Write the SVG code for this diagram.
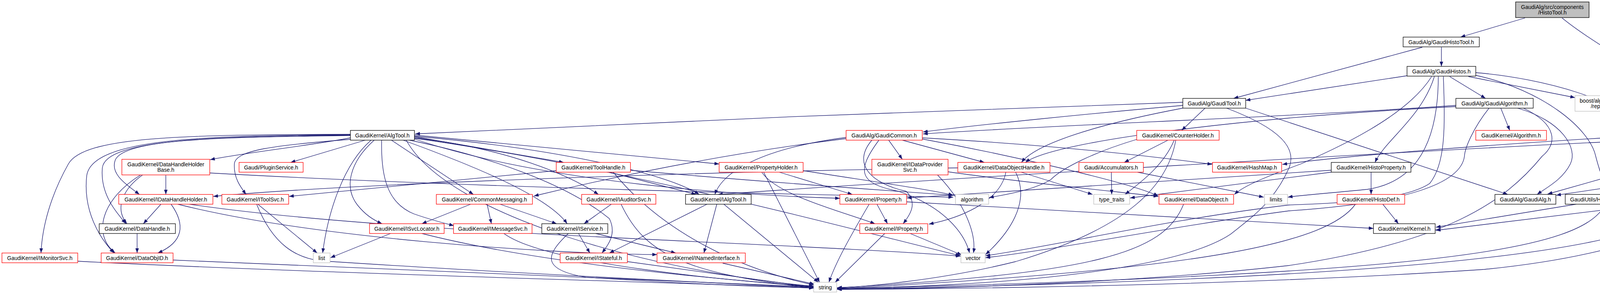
<svg xmlns="http://www.w3.org/2000/svg" width="4494" height="753" viewBox="0 0 4494 753">
<style>
rect{fill:#fff;stroke-width:1.3}
.r{stroke:#ff0000}.b{stroke:#000}.g{stroke:#bfbfbf}.root{fill:#bfbfbf;stroke:#000}
text{font-family:"Liberation Sans",Arial,sans-serif;font-size:14px;text-anchor:middle;fill:#000}
#edges path{fill:none;stroke:#191970;stroke-width:1.3;marker-end:url(#a)}
</style>
<defs><marker id="a" markerUnits="userSpaceOnUse" markerWidth="12" markerHeight="9" refX="12" refY="4.5" orient="auto"><path d="M0,0 L12,4.5 L0,9 z" fill="#191970"/></marker></defs>
<rect x="0" y="0" width="4494" height="753" style="fill:#fff;stroke:none"/>
<g id="edges">
<path d="M3904,46 L3739,95"/>
<path d="M3999,46 C4100,130 4330,240 4368,334"/>
<path d="M3690,121 L3690,170"/>
<path d="M3641,121 L3158,252"/>
<path d="M3602,194 L3189,257"/>
<path d="M3711,196 L3803,252"/>
<path d="M3759,196 L4032,250"/>
<path d="M3778,186 C3950,200 4170,260 4185,334"/>
<path d="M3778,193 C3950,230 4070,330 4085,400 C4095,440 4108,470 4114,498"/>
<path d="M3672,196 C3640,300 3545,360 3520,416"/>
<path d="M3665,196 C3600,300 3420,380 3330,420 C3220,460 3180,480 3160,498"/>
<path d="M3682,196 C3682,400 3600,470 3500,485 C3400,495 3330,500 3297,505"/>
<path d="M3695,196 C3700,330 3700,420 3660,470 C3600,510 3450,520 3300,525 C3000,560 2700,630 2523,655"/>
<path d="M3028,262 C2500,278 1600,315 1063,343"/>
<path d="M3028,270 C2800,290 2500,320 2363,338"/>
<path d="M3085,277 L3025,334"/>
<path d="M3028,277 C2800,320 2650,370 2615,416"/>
<path d="M3189,277 L3860,498"/>
<path d="M3140,277 C3280,330 3320,380 3300,430 C3260,520 3200,560 3150,600 C3000,700 2500,735 2143,738"/>
<path d="M3727,270 C3300,300 2700,320 2363,343"/>
<path d="M3727,273 C3200,300 2700,360 2625,416"/>
<path d="M3842,277 L3865,334"/>
<path d="M3885,277 C4000,310 4040,380 4020,420 C4000,460 3960,480 3935,498"/>
<path d="M3900,277 C3990,320 3985,370 3948,400 C3850,520 3700,620 3300,680 C2900,725 2400,740 2143,741"/>
<path d="M3812,277 C3770,330 3750,380 3749,400 C3740,470 3600,520 3300,540 C3000,580 2700,640 2523,660"/>
<path d="M897,353 C800,372 620,392 538,409"/>
<path d="M897,347 C600,352 320,352 295,410 C282,445 320,470 357,498"/>
<path d="M897,346 C560,350 270,355 262,430 C256,500 300,545 322,573"/>
<path d="M897,345 C520,347 235,355 222,450 C212,540 255,610 292,648"/>
<path d="M897,344 C460,345 215,350 175,420 C130,500 108,580 105,648"/>
<path d="M935,359 L744,416"/>
<path d="M897,357 C700,372 602,385 600,420 C598,455 615,478 630,498"/>
<path d="M950,359 C880,420 840,540 826,648"/>
<path d="M958,359 C895,415 880,480 915,525 C935,550 955,563 978,573"/>
<path d="M977,359 C975,450 990,520 1060,548 C1100,562 1130,570 1162,578"/>
<path d="M1002,359 L1212,498"/>
<path d="M1032,359 C1200,420 1400,500 1452,573"/>
<path d="M1048,359 C1250,400 1450,470 1560,560 C1580,600 1555,630 1541,648"/>
<path d="M1061,353 C1300,380 1460,450 1532,498"/>
<path d="M1061,350 L1443,416"/>
<path d="M1061,349 C1400,378 1700,440 1790,498"/>
<path d="M1061,346 L1841,420"/>
<path d="M1061,356 C1400,470 1900,500 2150,508"/>
<path d="M1061,354 C1600,430 2150,580 2458,655"/>
<path d="M1040,359 C1150,560 1700,700 2083,733"/>
<path d="M424.5,449 L424.5,498"/>
<path d="M365,448 C320,480 290,530 325,573"/>
<path d="M360,448 C260,510 235,600 295,648"/>
<path d="M537,443 C1200,480 2100,500 2440,505"/>
<path d="M412,523 L367,573"/>
<path d="M438,523 C475,575 470,620 404,648"/>
<path d="M455,523 C800,610 1400,650 1682,652"/>
<path d="M485,523 C1000,600 2000,620 2459,656"/>
<path d="M351,598 L351,648"/>
<path d="M443,666 L2083,735"/>
<path d="M199,669 C800,700 1800,725 2083,738"/>
<path d="M660,523 L812,648"/>
<path d="M657,523 C700,630 760,660 820,668 C1300,700 1900,728 2083,737"/>
<path d="M1000,598 L846,660"/>
<path d="M1080,598 C1400,680 1900,720 2083,734"/>
<path d="M1290,598 C1400,680 1900,720 2083,735"/>
<path d="M1205,523 L1080,573"/>
<path d="M1247,523 L1258,573"/>
<path d="M1280,523 L1425,573"/>
<path d="M1565,523 L1495,573"/>
<path d="M1590,523 C1650,650 1750,700 2083,738"/>
<path d="M1481,598 L1510,648"/>
<path d="M1525,598 L1730,648"/>
<path d="M1455,598 C1400,650 1380,690 1500,710 C1800,730 2000,736 2083,737"/>
<path d="M1810,523 L1560,648"/>
<path d="M1835,523 L1802,648"/>
<path d="M1853,523 L2095,723"/>
<path d="M1850,674 L2085,728"/>
<path d="M1606,670 L2083,736"/>
<path d="M1560,441 L1782,498"/>
<path d="M1424,437 L740,503"/>
<path d="M1614,436 C2000,470 2300,490 2442,500"/>
<path d="M1570,441 C1700,600 1900,690 2083,730"/>
<path d="M1995,441 L2182,498"/>
<path d="M1950,441 C1990,500 2150,540 2240,573"/>
<path d="M1955,441 L2098,723"/>
<path d="M2056,437 C2200,460 2380,485 2440,500"/>
<path d="M2245,523 L2272,573"/>
<path d="M2225,523 C2180,600 2140,670 2122,723"/>
<path d="M2321,517 L3516,585"/>
<path d="M2265,598 L2138,723"/>
<path d="M2330,598 L2462,653"/>
<path d="M2275,359 L2310,408"/>
<path d="M2310,359 L2520,416"/>
<path d="M2361,353 C2700,372 2950,400 3103,421"/>
<path d="M2232,359 C2180,420 2230,470 2320,490 C2350,520 2330,550 2312,573"/>
<path d="M2250,359 C2190,440 2200,470 2300,490 C2420,530 2470,600 2482,648"/>
<path d="M2361,356 C2600,400 2900,470 2965,502"/>
<path d="M2166,355 C1800,400 1500,470 1367,502"/>
<path d="M2166,352 C1950,380 1850,440 1830,498"/>
<path d="M2575,441 C2560,520 2450,560 2378,574"/>
<path d="M2614,441 L2797,498"/>
<path d="M2452,430 C1800,440 900,470 546,503"/>
<path d="M2600,441 C2640,520 2580,600 2523,652"/>
<path d="M2400,448 C2470,520 2500,600 2492,648"/>
<path d="M2427,440 C2600,465 2850,490 2965,503"/>
<path d="M2990,359 L2878,416"/>
<path d="M3006,359 C2980,420 2930,460 2880,498"/>
<path d="M3010,359 C2990,470 2900,580 2600,670 C2400,720 2200,735 2143,737"/>
<path d="M2910,357 C2800,390 2720,430 2690,460 C2650,485 2580,498 2532,506"/>
<path d="M2845,441 L2846,498"/>
<path d="M2912,441 L3235,505"/>
<path d="M3030,523 C2980,650 2800,700 2143,737"/>
<path d="M3510,441 L3510,498"/>
<path d="M3408,436 L2322,507"/>
<path d="M3408,441 L2893,507"/>
<path d="M3540,523 L3580,573"/>
<path d="M3470,523 C3400,620 3100,690 2143,739"/>
<path d="M4035,523 L3676,582"/>
<path d="M4110,523 C4050,640 3700,700 2143,740"/>
<path d="M4245,521 L3676,590"/>
<path d="M4300,523 C4250,640 3600,715 2143,741"/>
<path d="M4160,441 L3962,497"/>
<path d="M4320,441 C4200,470 4050,490 3984,500"/>
<path d="M4230,441 L4300,498"/>
<path d="M4365,441 L4350,498"/>
<path d="M4125,352 C3800,372 3450,398 3283,421"/>
<path d="M4190,359 L4192,416"/>
<path d="M4230,359 L4340,416"/>
<path d="M4378,359 L4374,416"/>
<path d="M4300,355 C3700,380 2300,465 1838,498"/>
<path d="M4440,359 C4480,500 4300,640 3800,690 C3200,730 2500,740 2143,741"/>
</g>
<g id="n0"><rect class="root" x="3880" y="5" width="188" height="40"/><text x="3974" y="23">GaudiAlg/src/components</text><text x="3974" y="37">/HistoTool.h</text></g>
<g id="n1"><rect class="b" x="3592" y="95" width="195" height="25"/><text x="3689.5" y="112.5">GaudiAlg/GaudiHistoTool.h</text></g>
<g id="n2"><rect class="b" x="3602" y="170" width="176" height="25"/><text x="3690" y="187.5">GaudiAlg/GaudiHistos.h</text></g>
<g id="n3"><rect class="b" x="3028" y="252" width="161" height="25"/><text x="3108.5" y="269.5">GaudiAlg/GaudiTool.h</text></g>
<g id="n4"><rect class="b" x="3727" y="252" width="198" height="25"/><text x="3826" y="269.5">GaudiAlg/GaudiAlgorithm.h</text></g>
<g id="n5"><rect class="g" x="4032" y="245" width="158" height="40"/><text x="4111" y="263">boost/algorithm/string</text><text x="4111" y="277">/replace.hpp</text></g>
<g id="n6"><rect class="b" x="897" y="334" width="164" height="25"/><text x="979" y="351.5">GaudiKernel/AlgTool.h</text></g>
<g id="n7"><rect class="r" x="2166" y="334" width="195" height="25"/><text x="2263.5" y="351.5">GaudiAlg/GaudiCommon.h</text></g>
<g id="n8"><rect class="r" x="2910" y="334" width="211" height="25"/><text x="3015.5" y="351.5">GaudiKernel/CounterHolder.h</text></g>
<g id="n9"><rect class="r" x="3778" y="334" width="181" height="25"/><text x="3868.5" y="351.5">GaudiKernel/Algorithm.h</text></g>
<g id="n10"><rect class="b" x="4125" y="334" width="131" height="25"/><text x="4190.5" y="351.5">GaudiAlg/Maps.h</text></g>
<g id="n11"><rect class="b" x="4300" y="334" width="160" height="25"/><text x="4380" y="351.5">GaudiAlg/IHistoTool.h</text></g>
<g id="n12"><rect class="r" x="312" y="408" width="225" height="40"/><text x="424.5" y="426">GaudiKernel/DataHandleHolder</text><text x="424.5" y="440">Base.h</text></g>
<g id="n13"><rect class="r" x="612" y="416" width="164" height="25"/><text x="694" y="433.5">Gaudi/PluginService.h</text></g>
<g id="n14"><rect class="r" x="1424" y="416" width="190" height="25"/><text x="1519" y="433.5">GaudiKernel/ToolHandle.h</text></g>
<g id="n15"><rect class="r" x="1841" y="416" width="215" height="25"/><text x="1948.5" y="433.5">GaudiKernel/PropertyHolder.h</text></g>
<g id="n16"><rect class="r" x="2232" y="408" width="195" height="40"/><text x="2329.5" y="426">GaudiKernel/IDataProvider</text><text x="2329.5" y="440">Svc.h</text></g>
<g id="n17"><rect class="r" x="2452" y="416" width="236" height="25"/><text x="2570" y="433.5">GaudiKernel/DataObjectHandle.h</text></g>
<g id="n18"><rect class="r" x="2762" y="416" width="165" height="25"/><text x="2844.5" y="433.5">Gaudi/Accumulators.h</text></g>
<g id="n19"><rect class="r" x="3104" y="416" width="177" height="25"/><text x="3192.5" y="433.5">GaudiKernel/HashMap.h</text></g>
<g id="n20"><rect class="b" x="3408" y="416" width="204" height="25"/><text x="3510" y="433.5">GaudiKernel/HistoProperty.h</text></g>
<g id="n21"><rect class="b" x="4120" y="416" width="146" height="25"/><text x="4193" y="433.5">GaudiAlg/TupleID.h</text></g>
<g id="n22"><rect class="b" x="4300" y="416" width="143" height="25"/><text x="4371.5" y="433.5">GaudiAlg/HistoID.h</text></g>
<g id="n23"><rect class="r" x="304" y="498" width="241" height="25"/><text x="424.5" y="515.5">GaudiKernel/IDataHandleHolder.h</text></g>
<g id="n24"><rect class="r" x="568" y="498" width="171" height="25"/><text x="653.5" y="515.5">GaudiKernel/IToolSvc.h</text></g>
<g id="n25"><rect class="r" x="1117" y="498" width="246" height="25"/><text x="1240" y="515.5">GaudiKernel/CommonMessaging.h</text></g>
<g id="n26"><rect class="r" x="1489" y="498" width="190" height="25"/><text x="1584" y="515.5">GaudiKernel/IAuditorSvc.h</text></g>
<g id="n27"><rect class="b" x="1755" y="498" width="168" height="25"/><text x="1839" y="515.5">GaudiKernel/IAlgTool.h</text></g>
<g id="n28"><rect class="r" x="2150" y="498" width="171" height="25"/><text x="2235.5" y="515.5">GaudiKernel/Property.h</text></g>
<g id="n29"><rect class="g" x="2446" y="498" width="85" height="25"/><text x="2488.5" y="515.5">algorithm</text></g>
<g id="n30"><rect class="g" x="2800" y="498" width="92" height="25"/><text x="2846" y="515.5">type_traits</text></g>
<g id="n31"><rect class="r" x="2967" y="498" width="191" height="25"/><text x="3062.5" y="515.5">GaudiKernel/DataObject.h</text></g>
<g id="n32"><rect class="g" x="3237" y="498" width="59" height="25"/><text x="3266.5" y="515.5">limits</text></g>
<g id="n33"><rect class="r" x="3423" y="498" width="173" height="25"/><text x="3509.5" y="515.5">GaudiKernel/HistoDef.h</text></g>
<g id="n34"><rect class="b" x="3827" y="498" width="156" height="25"/><text x="3905" y="515.5">GaudiAlg/GaudiAlg.h</text></g>
<g id="n35"><rect class="b" x="4007" y="498" width="215" height="25"/><text x="4114.5" y="515.5">GaudiUtils/HistoTableFormat.h</text></g>
<g id="n36"><rect class="b" x="4245" y="498" width="180" height="25"/><text x="4335" y="515.5">GaudiAlg/GaudiHistoID.h</text></g>
<g id="n37"><rect class="b" x="254" y="573" width="195" height="25"/><text x="351.5" y="590.5">GaudiKernel/DataHandle.h</text></g>
<g id="n38"><rect class="r" x="946" y="573" width="191" height="25"/><text x="1041.5" y="590.5">GaudiKernel/ISvcLocator.h</text></g>
<g id="n39"><rect class="r" x="1161" y="573" width="201" height="25"/><text x="1261.5" y="590.5">GaudiKernel/IMessageSvc.h</text></g>
<g id="n40"><rect class="b" x="1387" y="573" width="169" height="25"/><text x="1471.5" y="590.5">GaudiKernel/IService.h</text></g>
<g id="n41"><rect class="r" x="2201" y="573" width="174" height="25"/><text x="2288" y="590.5">GaudiKernel/IProperty.h</text></g>
<g id="n42"><rect class="b" x="3516" y="573" width="158" height="25"/><text x="3595" y="590.5">GaudiKernel/Kernel.h</text></g>
<g id="n43"><rect class="r" x="5" y="648" width="194" height="25"/><text x="102" y="665.5">GaudiKernel/IMonitorSvc.h</text></g>
<g id="n44"><rect class="r" x="259" y="648" width="184" height="25"/><text x="351" y="665.5">GaudiKernel/DataObjID.h</text></g>
<g id="n45"><rect class="g" x="802" y="648" width="43" height="25"/><text x="823.5" y="665.5">list</text></g>
<g id="n46"><rect class="r" x="1434" y="648" width="172" height="25"/><text x="1520" y="665.5">GaudiKernel/IStateful.h</text></g>
<g id="n47"><rect class="r" x="1682" y="648" width="226" height="25"/><text x="1795" y="665.5">GaudiKernel/INamedInterface.h</text></g>
<g id="n48"><rect class="g" x="2460" y="648" width="62" height="25"/><text x="2491" y="665.5">vector</text></g>
<g id="n49"><rect class="g" x="2083" y="723" width="59" height="25"/><text x="2112.5" y="740.5">string</text></g>
</svg>
